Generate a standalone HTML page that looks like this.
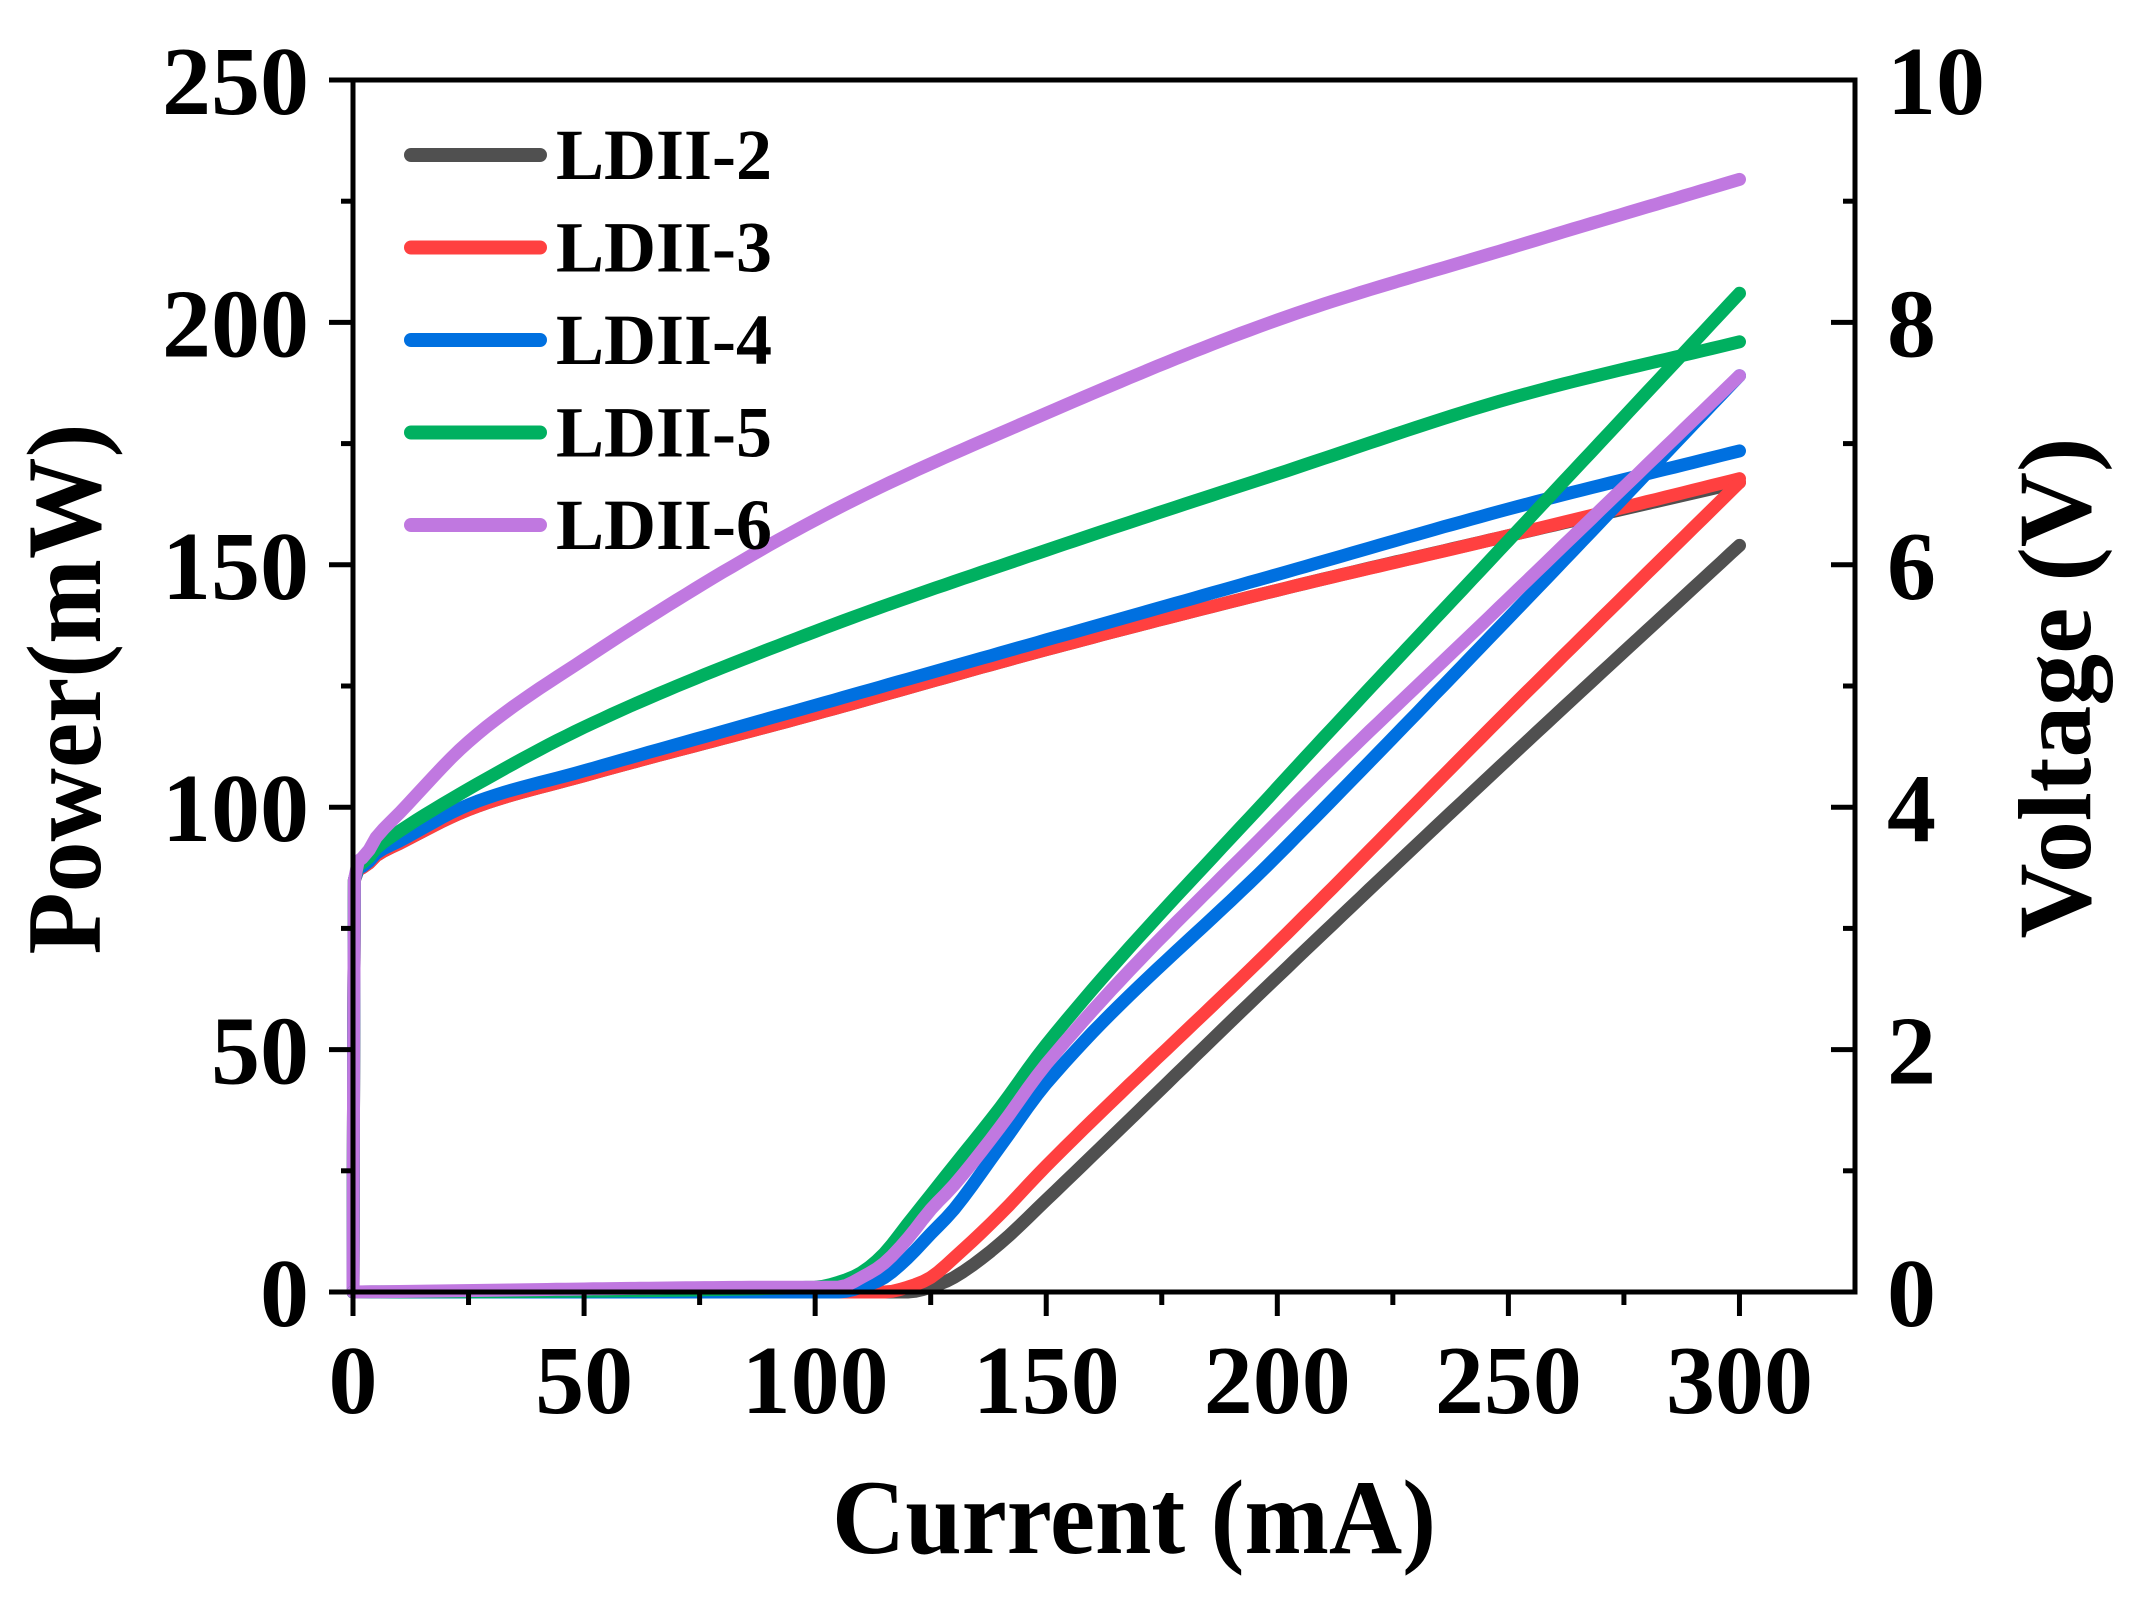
<!DOCTYPE html>
<html><head><meta charset="utf-8"><style>
html,body{margin:0;padding:0;background:#fff;}
svg{display:block;}
text{font-family:"Liberation Serif","Times New Roman",serif;font-weight:bold;fill:#000;}
</style></head>
<body>
<svg id="chart" width="2146" height="1613" viewBox="0 0 2146 1613" xmlns="http://www.w3.org/2000/svg">
<g id="series"></g>
<g id="axes"></g>
<g id="legend"></g>
<text x="1134" y="1553" font-size="106" text-anchor="middle" textLength="604" lengthAdjust="spacingAndGlyphs">Current (mA)</text>
<text transform="translate(100,689) rotate(-90)" font-size="106" text-anchor="middle" textLength="531" lengthAdjust="spacingAndGlyphs">Power(mW)</text>
<text transform="translate(2090,688) rotate(-90)" font-size="104" text-anchor="middle" textLength="501" lengthAdjust="spacingAndGlyphs">Voltage (V)</text>
</svg>
<script>
const seriesNames = ["LDII-2","LDII-3","LDII-4","LDII-5","LDII-6"];
const seriesColors = ["#505050","#ff4040","#0070e0","#00b060","#c078e0"];
// Power (mW) vs current
const powerCurrent = [0,100,105,110,115,120,125,130,140,150,200,250,300];
const powerLDII2 = [0,0,0,0,0,0,1,3,10,19,65,110,154];
const powerLDII3 = [0,0,0,0,0,1,3,7,16,26,72,120,167];
const powerLDII4 = [0,0,0,1,3,7,12,17,30,43,90,139,189];
const powerLDII5 = [0,1,2,4,8,14,20,26,38,51,104,155,206];
const powerLDII6 = [0,1,1,3,6,11,17,22,34,47,97,143,189];
// Voltage (V) vs current
const voltCurrent = [0,0.3,2,5,10,25,50,100,150,200,250,300];
const voltLDII2 = [0,3.4,3.5,3.6,3.7,3.98,4.26,4.77,5.3,5.79,6.24,6.68];
const voltLDII3 = [0,3.4,3.5,3.6,3.7,3.98,4.26,4.77,5.3,5.79,6.24,6.71];
const voltLDII4 = [0,3.4,3.51,3.62,3.72,4.02,4.3,4.84,5.38,5.92,6.46,6.94];
const voltLDII5 = [0,3.4,3.54,3.66,3.8,4.15,4.66,5.45,6.12,6.75,7.37,7.84];
const voltLDII6 = [0,3.4,3.58,3.75,3.95,4.54,5.22,6.37,7.25,8.02,8.61,9.18];
const xTicks = [0,50,100,150,200,250,300];
const yLeftTicks = [0,50,100,150,200,250];
const yRightTicks = [0,2,4,6,8,10];

const NS="http://www.w3.org/2000/svg";
const X0=353,X1=1855,Y0=1292,Y1=80,XMAX=325;
function xs(v){return X0+(X1-X0)*v/XMAX;}
function yp(v){return Y0-(Y0-Y1)*v/250;}
function yv(v){return Y0-(Y0-Y1)*v/10;}
function mk(tag,attrs,parent){const e=document.createElementNS(NS,tag);for(const k in attrs)e.setAttribute(k,attrs[k]);parent.appendChild(e);return e;}
// monotone cubic (Fritsch-Carlson) in data space, sampled densely
function monoPath(xd,yd,fx,fy){
  const n=xd.length,d=[],m=[];
  for(let i=0;i<n-1;i++)d.push((yd[i+1]-yd[i])/(xd[i+1]-xd[i]));
  m[0]=d[0];m[n-1]=d[n-2];
  for(let i=1;i<n-1;i++){m[i]=(d[i-1]*d[i]<=0)?0:(d[i-1]+d[i])/2;}
  for(let i=0;i<n-1;i++){
    if(d[i]===0){m[i]=0;m[i+1]=0;continue;}
    const a=m[i]/d[i],b=m[i+1]/d[i],s=a*a+b*b;
    if(s>9){const t=3/Math.sqrt(s);m[i]=t*a*d[i];m[i+1]=t*b*d[i];}
  }
  let out="M"+fx(xd[0]).toFixed(1)+","+fy(yd[0]).toFixed(1);
  for(let i=0;i<n-1;i++){
    const h=xd[i+1]-xd[i],steps=Math.max(2,Math.ceil(h/2));
    for(let k=1;k<=steps;k++){
      const t=k/steps,t2=t*t,t3=t2*t;
      const y=(2*t3-3*t2+1)*yd[i]+(t3-2*t2+t)*h*m[i]+(-2*t3+3*t2)*yd[i+1]+(t3-t2)*h*m[i+1];
      out+=" L"+fx(xd[i]+h*t).toFixed(1)+","+fy(y).toFixed(1);
    }
  }
  return out;
}
const sg=document.getElementById("series");
const powers=[powerLDII2,powerLDII3,powerLDII4,powerLDII5,powerLDII6];
const volts=[voltLDII2,voltLDII3,voltLDII4,voltLDII5,voltLDII6];
for(let s=0;s<5;s++){
  const pv=mk("path",{d:monoPath(voltCurrent,volts[s],xs,yv),fill:"none",stroke:seriesColors[s],"stroke-width":13,"stroke-linecap":"round","stroke-linejoin":"round"},sg);
  
  
}
for(let s=0;s<5;s++){
  const pp=mk("path",{d:monoPath(powerCurrent,powers[s],xs,yp),fill:"none",stroke:seriesColors[s],"stroke-width":13,"stroke-linecap":"round","stroke-linejoin":"round"},sg);
  
  
}
const ax=document.getElementById("axes");
const frame=mk("path",{d:`M${X0},${Y1} H${X1} V${Y0} H${X0} Z`,fill:"none",stroke:"#000","stroke-width":5},ax);


xTicks.forEach(v=>{
  const x=xs(v);
  mk("line",{x1:x,y1:Y0,x2:x,y2:Y0+24,stroke:"#000","stroke-width":5},ax);
  const t=mk("text",{x:x,y:1413,"font-size":98,"text-anchor":"middle"},ax);t.textContent=v;
  
  
  const m=v+25;if(m<XMAX)mk("line",{x1:xs(m),y1:Y0,x2:xs(m),y2:Y0+13,stroke:"#000","stroke-width":5},ax);
});
yLeftTicks.forEach(v=>{
  const y=yp(v);
  mk("line",{x1:X0-24,y1:y,x2:X0,y2:y,stroke:"#000","stroke-width":5},ax);
  if(v<250)mk("line",{x1:X0-12,y1:yp(v+25),x2:X0,y2:yp(v+25),stroke:"#000","stroke-width":5},ax);
  const t=mk("text",{x:309,y:y+34,"font-size":98,"text-anchor":"end"},ax);t.textContent=v;
  
  
});
yRightTicks.forEach(v=>{
  const y=yv(v);
  mk("line",{x1:X1-24,y1:y,x2:X1,y2:y,stroke:"#000","stroke-width":5},ax);
  if(v<10)mk("line",{x1:X1-12,y1:yv(v+1),x2:X1,y2:yv(v+1),stroke:"#000","stroke-width":5},ax);
  const t=mk("text",{x:1887,y:y+34,"font-size":98,"text-anchor":"start"},ax);t.textContent=v;
  
  
});
const lg=document.getElementById("legend");
seriesNames.forEach((n,i)=>{
  const y=155+i*92.5;
  const l=mk("line",{x1:411,y1:y,x2:540,y2:y,stroke:seriesColors[i],"stroke-width":14,"stroke-linecap":"round"},lg);
  
  
  const t=mk("text",{x:556,y:y+24,"font-size":72},lg);t.textContent=n;
  
  
});
</script>
</body></html>
